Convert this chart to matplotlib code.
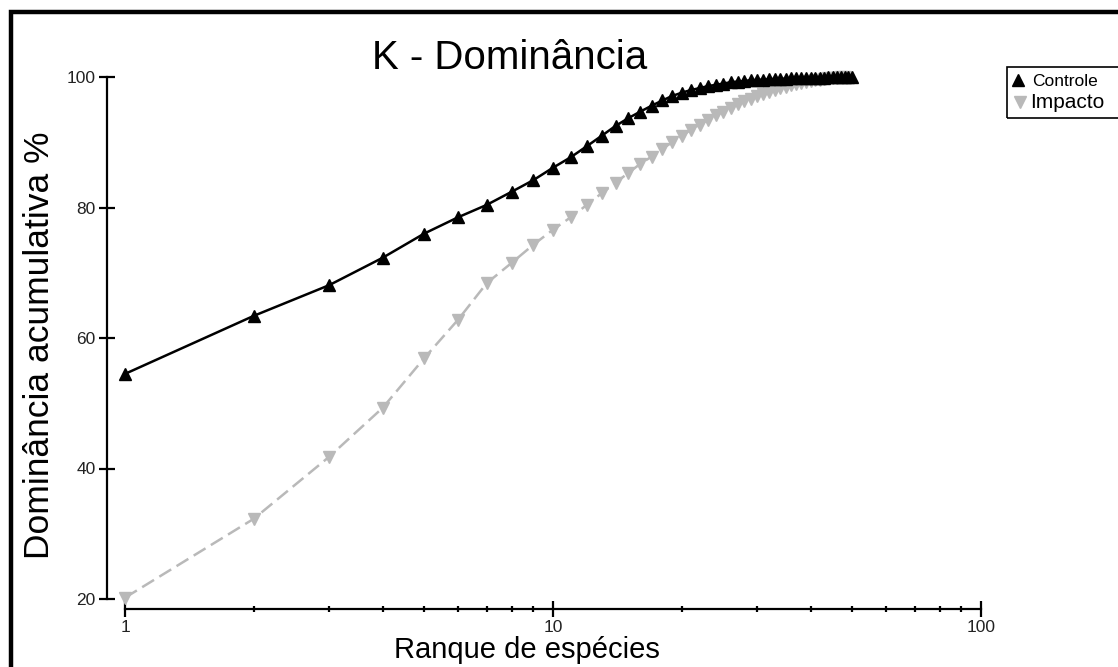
import matplotlib
matplotlib.use('Agg')
import matplotlib.pyplot as plt
from matplotlib.patches import Rectangle
from matplotlib.lines import Line2D
from matplotlib.ticker import FixedLocator, FixedFormatter, NullFormatter

plt.rcParams['font.family'] = ['Liberation Sans', 'DejaVu Sans']
plt.rcParams['lines.scale_dashes'] = False

# ---- data ----
controle = [54.5, 63.4, 68.1, 72.3, 76.0, 78.5, 80.4, 82.4, 84.2, 86.1,
            87.7, 89.4, 91.0, 92.5, 93.7, 94.7, 95.6, 96.4, 97.1, 97.6,
            98.0, 98.3, 98.6, 98.8, 99.0, 99.2, 99.3, 99.4, 99.5, 99.55,
            99.6, 99.65, 99.7, 99.72, 99.75, 99.78, 99.8, 99.82, 99.84, 99.86,
            99.88, 99.9, 99.92, 99.94, 99.95, 99.96, 99.97, 99.98, 99.99, 100.0]
impacto = [20.2, 32.3, 41.8, 49.3, 56.9, 62.8, 68.4, 71.5, 74.3, 76.6,
           78.5, 80.4, 82.2, 83.8, 85.3, 86.7, 87.8, 89.0, 90.0, 91.0,
           91.9, 92.7, 93.4, 94.1, 94.7, 95.3, 95.8, 96.3, 96.7, 97.1,
           97.4, 97.7, 98.0, 98.3, 98.5, 98.7, 98.9, 99.1, 99.3, 99.4,
           99.5, 99.6, 99.7, 99.8, 99.85, 99.9, 99.95, 100.0]
rank_c = list(range(1, len(controle) + 1))
rank_i = list(range(1, len(impacto) + 1))
y_ticks = [20, 40, 60, 80, 100]
x_ticks = [1, 10, 100]
x_tick_labels = ['1', '10', '100']
x_minor = [2, 3, 4, 5, 6, 7, 8, 9, 20, 30, 40, 50, 60, 70, 80, 90]

W, H = 1118, 667
fig = plt.figure(figsize=(W / 100, H / 100), dpi=100)
fig.patch.set_facecolor('white')

ax = fig.add_axes([125 / W, 1 - 599 / H, 856 / W, 522 / H])
ax.set_xscale('log')
ax.set_xlim(1, 100)
ax.set_ylim(20, 100)

ax.plot(rank_i, impacto, color='#b9b9b9', lw=1.8, ls=(0, (10, 4.5)),
        marker='v', ms=8.5, mec='#b9b9b9', mfc='#b9b9b9', clip_on=False, zorder=2)
ax.plot(rank_c, controle, color='black', lw=1.8, marker='^', ms=8.5,
        clip_on=False, zorder=3)

for s in ['top', 'right']:
    ax.spines[s].set_visible(False)
ax.spines['left'].set_position(('outward', 13))
ax.spines['bottom'].set_position(('outward', 7.2))
for s in ['left', 'bottom']:
    ax.spines[s].set_linewidth(1.6)

ax.yaxis.set_major_locator(FixedLocator(y_ticks))
ax.yaxis.set_minor_locator(FixedLocator([]))
ax.xaxis.set_major_locator(FixedLocator(x_ticks))
ax.xaxis.set_major_formatter(FixedFormatter(x_tick_labels))
ax.xaxis.set_minor_locator(FixedLocator(x_minor))
ax.xaxis.set_minor_formatter(NullFormatter())
ax.tick_params(axis='both', which='major', direction='inout', length=12,
               width=1.6, labelsize=12.5, labelcolor='#222222', pad=2)
ax.tick_params(axis='x', which='minor', direction='inout', length=5, width=1.6)

fig.text(510 / W, 1 - 69 / H, 'K - Dominância', ha='center', va='baseline',
         fontsize=29, color='black')
fig.text(527 / W, 1 - 658 / H, 'Ranque de espécies', ha='center', va='baseline',
         fontsize=21, color='black')
fig.text(40 / W, 1 - 345 / H, 'Dominância acumulativa %', ha='center', va='center',
         rotation=90, fontsize=25.5, color='black')

# legend box (manual)
fig.patches.append(Rectangle((1007 / W, 1 - 118 / H), 130 / W, 51 / H,
                             transform=fig.transFigure, fill=False,
                             edgecolor='black', lw=1.2))
fig.lines.append(Line2D([1018 / W], [1 - 80 / H], transform=fig.transFigure,
                        marker='^', ms=8, color='black', ls='none'))
fig.lines.append(Line2D([1020 / W], [1 - 102 / H], transform=fig.transFigure,
                        marker='v', ms=8, color='#b9b9b9', ls='none'))
fig.text(1032 / W, 1 - 86 / H, 'Controle', ha='left', va='baseline', fontsize=12.5)
fig.text(1030 / W, 1 - 108 / H, 'Impacto', ha='left', va='baseline', fontsize=15)

# outer frame
fig.patches.append(Rectangle((10.5 / W, -0.05), 1.2, 1 - 11.5 / H + 0.05,
                             transform=fig.transFigure, fill=False,
                             edgecolor='black', lw=3.2))

fig.savefig('out.png', dpi=100, facecolor='white')
